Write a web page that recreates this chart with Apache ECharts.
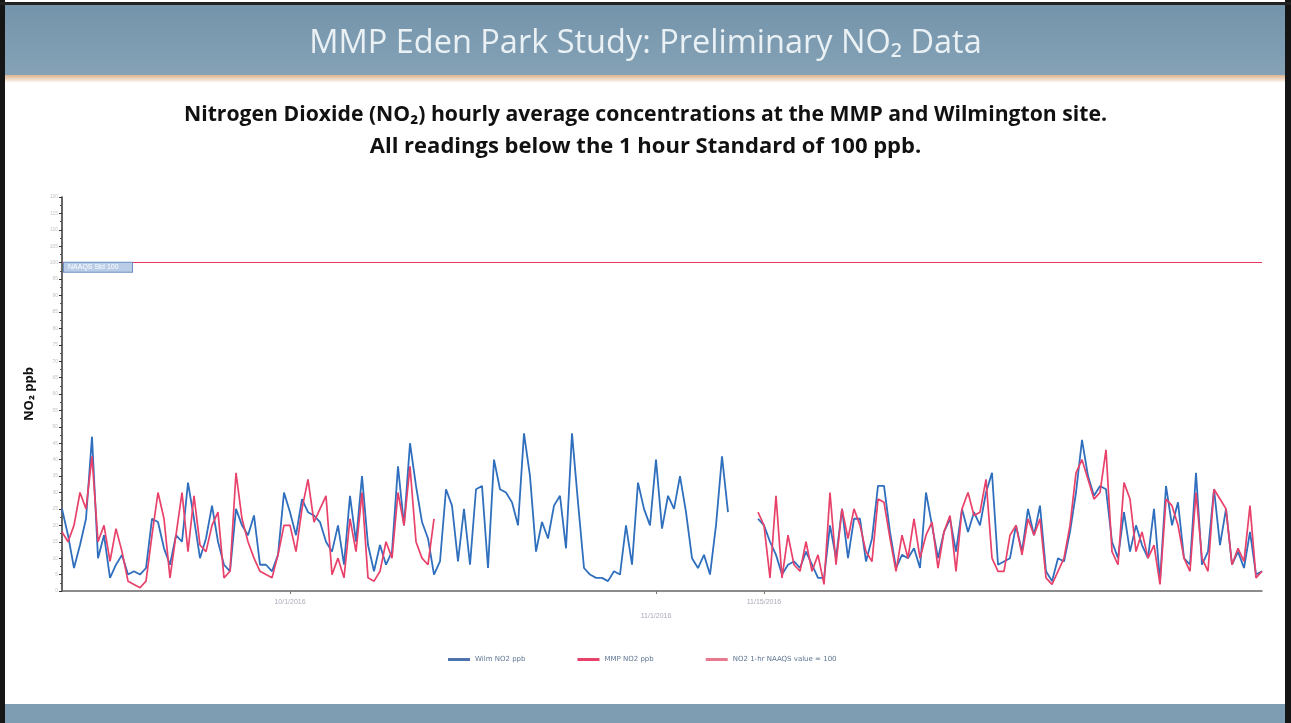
<!DOCTYPE html>
<html><head><meta charset="utf-8">
<script src="https://cdn.jsdelivr.net/npm/echarts@6/dist/echarts.min.js"></script>
<style>html,body{margin:0;padding:0;background:#fff}#c{width:1291px;height:723px}</style>
</head><body><div id="c"></div>
<script>
// ---- DATA ----
const seriesNames = ['Wilm NO2 ppb', 'MMP NO2 ppb', 'NO2 1-hr NAAQS value = 100'];
const STANDARD = 100;
const wilmNO2 = [
 25,17,7,14,22,47,10,17,4,8,
 11,5,6,5,7,22,21,13,8,17,
 15,33,22,10,16,26,15,8,6,25,
 20,17,23,8,8,6,11,30,24,17,
 28,24,23,21,15,12,20,8,29,15,
 35,14,6,14,8,12,38,20,45,32,
 21,16,5,9,31,26,9,25,8,31,
 32,7,40,31,30,27,20,48,35,12,
 21,16,26,29,13,48,27,7,5,4,
 4,3,6,5,20,8,33,25,20,40,
 19,29,25,35,24,10,7,11,5,20,
 41,24,null,null,null,null,22,20,15,11,
 5,8,9,7,12,8,4,4,20,10,
 25,10,22,22,9,16,32,32,18,7,
 11,10,13,7,30,20,10,18,22,12,
 25,18,24,20,30,36,8,9,10,20,
 12,25,17,26,6,3,10,9,18,30,
 46,35,29,32,31,15,10,24,12,20,
 14,10,25,3,32,20,27,10,8,36,
 8,12,31,14,25,8,12,7,18,5,6
];
const mmpNO2 = [
 18,15,20,30,25,41,15,20,9,19,
 12,3,2,1,3,17,30,22,4,17,
 30,12,29,14,12,20,24,4,6,36,
 22,15,10,6,5,4,11,20,20,12,
 25,34,21,25,29,5,10,4,22,12,
 30,4,3,6,15,10,30,20,38,15,
 10,8,22,null,null,null,null,null,null,null,
 null,null,null,null,null,null,null,null,null,null,
 null,null,null,null,null,null,null,null,null,null,
 null,null,null,null,null,null,null,null,null,null,
 null,null,null,null,null,null,null,null,null,null,
 null,null,null,null,null,null,24,20,4,29,
 4,17,8,6,15,6,11,2,30,8,
 25,16,25,20,12,9,28,27,16,6,
 17,10,22,10,17,21,7,18,23,6,
 25,30,23,24,34,10,6,6,17,20,
 11,22,17,22,4,2,6,10,20,36,
 40,34,28,30,43,12,8,33,28,12,
 18,10,14,2,28,26,20,10,6,30,
 10,6,31,28,25,8,13,9,26,4,6
];
const categories = wilmNO2.map((_, i) => String(i));
const xTickIdx = [38, 99, 117];
const xTickText = ['10/1/2016', '11/1/2016', '11/15/2016'];

// ---- CHART ----
const chart = echarts.init(document.getElementById('c'), null, {renderer: 'canvas'});
const option = {
  backgroundColor: '#ffffff',
  animation: false,
  graphic: [
    {type:'rect', shape:{x:5,y:5,width:1281,height:70}, style:{fill:new echarts.graphic.LinearGradient(0,0,0,1,[{offset:0,color:'#7494ab'},{offset:1,color:'#85a2b6'}])}, z:-1},
    {type:'rect', shape:{x:5,y:75,width:1281,height:7}, style:{fill:new echarts.graphic.LinearGradient(0,0,0,1,[{offset:0,color:'#dcb48f'},{offset:1,color:'#fbf4ee'}])}, z:-1},
    {type:'rect', shape:{x:5,y:704,width:1281,height:19}, style:{fill:'#7f9db2'}, z:-1},
    {type:'rect', shape:{x:0,y:0,width:5,height:723}, style:{fill:'#151515'}},
    {type:'rect', shape:{x:1285,y:0,width:6,height:723}, style:{fill:'#151515'}},
    {type:'rect', shape:{x:0,y:2,width:1291,height:3}, style:{fill:'#222'}}
  ],
  title: [
    {text:'MMP Eden Park Study: Preliminary NO₂ Data', left:'center', top:22,
     textStyle:{color:'#eaf1f5', fontFamily:'Open Sans', fontSize:32.5, fontWeight:'normal'}},
    {text:'Nitrogen Dioxide (NO₂) hourly average concentrations at the MMP and Wilmington site.',
     left:'center', top:99,
     textStyle:{color:'#111', fontFamily:'Open Sans', fontSize:21.2, fontWeight:'bold'}},
    {text:'All readings below the 1 hour Standard of 100 ppb.',
     left:'center', top:131,
     textStyle:{color:'#111', fontFamily:'Open Sans', fontSize:22, fontWeight:'bold'}}
  ],
  legend: {
    left: 443, top: 651, itemGap: 52, itemWidth: 22, itemHeight: 3,
    textStyle: {color:'#5f7591', fontSize:7, fontFamily:'DejaVu Sans'},
    data: [
      {name: seriesNames[0], icon:'rect'},
      {name: seriesNames[1], icon:'rect'},
      {name: seriesNames[2], icon:'rect'}
    ]
  },
  grid: {left: 62, right: 29, top: 197, bottom: 132, containLabel: false},
  xAxis: {
    type: 'category', data: categories, boundaryGap: false,
    axisLine: {lineStyle: {color:'#666', width:1.5}},
    axisTick: {show:true, interval: (i) => xTickIdx.includes(i), length:3, lineStyle:{color:'#777'}},
    axisLabel: {
      interval: (i) => xTickIdx.includes(i),
      color:'#aab', fontSize:7, margin:8,
      formatter: (v, i) => { const k = xTickIdx.indexOf(Number(v)); if (k < 0) return ''; return k === 1 ? '{low|' + xTickText[k] + '}' : xTickText[k]; },
      rich: {low: {padding:[14,0,0,0], color:'#aab', fontSize:7}}
    },
    splitLine: {show:false}
  },
  yAxis: {
    type: 'value', min: 0, max: 120, interval: 5,
    name: 'NO₂ ppb', nameLocation: 'middle', nameGap: 26, nameRotate: 90,
    nameTextStyle: {color:'#111', fontSize:13, fontWeight:'bold', fontFamily:'Open Sans'},
    axisLine: {show:true, lineStyle: {color:'#333', width:1.5}},
    axisTick: {show:true, length:3, lineStyle:{color:'#333'}},
    minorTick: {show:true, splitNumber:2, length:2, lineStyle:{color:'#555'}},
    axisLabel: {color:'#c4c4c4', fontSize:5, margin:4},
    splitLine: {show:false}
  },
  series: [
    {name: seriesNames[0], type:'line', data: wilmNO2, showSymbol:false, connectNulls:false,
     lineStyle:{color:'#2f6fbd', width:1.8}, itemStyle:{color:'#4f73ad'}, z:2},
    {name: seriesNames[1], type:'line', data: mmpNO2, showSymbol:false, connectNulls:false,
     lineStyle:{color:'#e8416a', width:1.7}, itemStyle:{color:'#e8416a'}, z:3},
    {name: seriesNames[2], type:'line', data: [], showSymbol:false,
     lineStyle:{color:'#e84a6c', width:1}, itemStyle:{color:'#e87a90'},
     markLine: {silent:true, symbol:'none', data:[{yAxis: STANDARD}],
       lineStyle:{color:'#e8365d', width:1, type:'solid'},
       label:{show:true, position:'insideStartTop', distance:[2,-9], formatter:'NAAQS Std 100',
         color:'#fff', fontSize:7, backgroundColor:'#b9cde6', borderColor:'#6d8fc4', borderWidth:1, padding:[1,4], width:60}}}
  ]
};
chart.setOption(option);
</script></body></html>
